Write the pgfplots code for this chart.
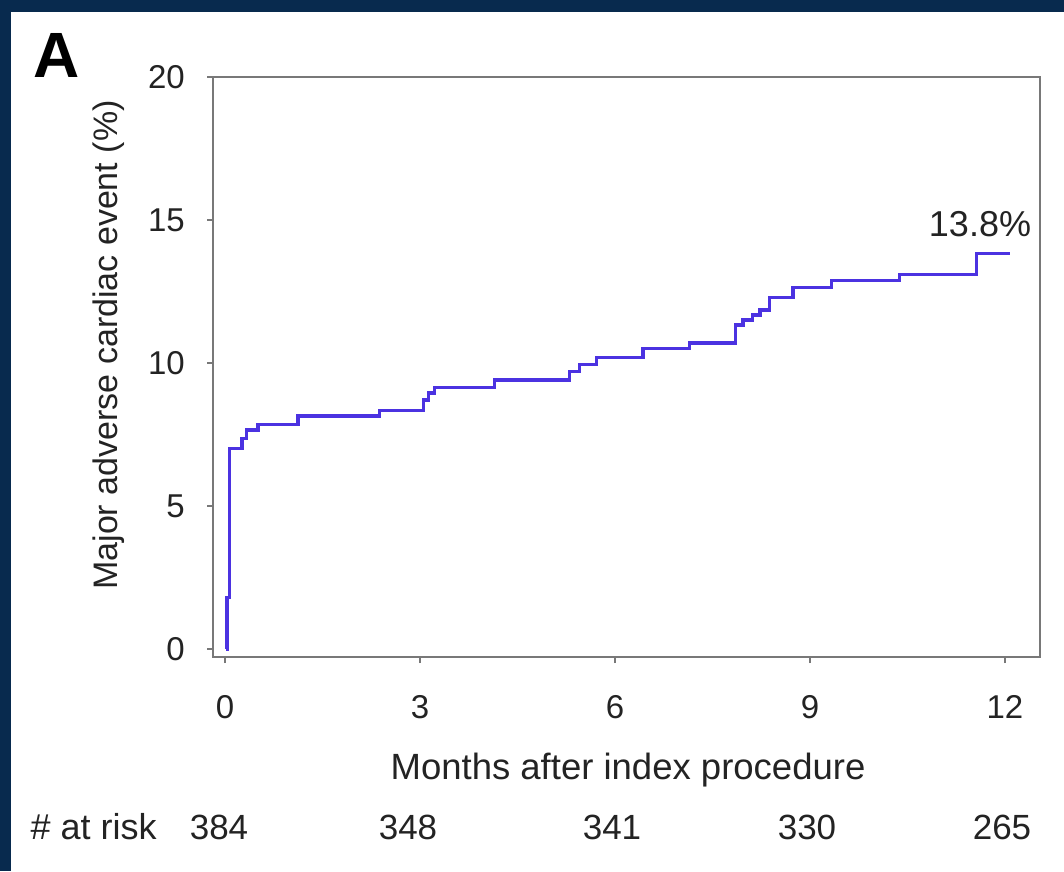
\documentclass[border=0pt]{standalone}
\usepackage{fontspec}
\setmainfont{Liberation Sans}
\usepackage{pgfplots}
\pgfplotsset{compat=1.18}
\definecolor{navy}{RGB}{8,42,78}
\definecolor{kmblue}{RGB}{75,50,225}
\definecolor{axgray}{RGB}{120,120,120}
\definecolor{txt}{RGB}{35,35,35}
\begin{document}
\begin{tikzpicture}[x=1pt,y=1pt]
\fill[navy] (0,0) rectangle (1064,871);
\fill[white] (11,0) rectangle (1064,859);
\begin{axis}[
  at={(213pt,214pt)}, anchor=south west,
  scale only axis, width=827pt, height=580pt,
  xmin=-0.185, xmax=12.54, ymin=-0.28, ymax=20,
  xtick={0,3,6,9,12}, ytick={0,5,10,15,20},
  axis line style={axgray, line width=2.8pt},
  tick style={axgray, line width=1.5pt},
  tick align=outside, major tick length=6pt,
  xtick pos=bottom, ytick pos=left,
  ticklabel style={font=\fontsize{33}{40}\selectfont, text=txt, inner sep=0pt},
  xticklabel style={yshift=-32pt},
  yticklabel style={xshift=-22pt},
  /pgf/number format/assume math mode=true,
  clip=false,
]
\addplot[const plot, kmblue, line width=3.4pt] coordinates {
(0.02,0) (0.03,1.8) (0.07,7.0) (0.26,7.37) (0.33,7.66) (0.51,7.85)
(1.12,8.15) (2.38,8.33) (3.05,8.7) (3.13,8.95) (3.22,9.15) (4.15,9.4)
(5.30,9.7) (5.45,9.95) (5.72,10.2) (6.43,10.5) (7.15,10.7) (7.85,11.33)
(7.97,11.5) (8.12,11.68) (8.23,11.85) (8.38,12.3) (8.74,12.65) (9.33,12.88)
(10.38,13.1) (11.56,13.83) (12.08,13.83)
};
\end{axis}
\node[anchor=base, font=\bfseries\fontsize{64}{74}\selectfont] at (57,793) {A};
\node[anchor=base, text=txt, font=\fontsize{36}{42}\selectfont] at (980,634) {13.8\%};
\node[anchor=base, text=txt, font=\fontsize{36.5}{42}\selectfont] at (628,92) {Months after index procedure};
\node[rotate=90, anchor=center, text=txt, font=\fontsize{34}{40}\selectfont] at (109,526) {Major adverse cardiac event (\%)};
\begin{scope}[every node/.style={anchor=base, text=txt, font=\fontsize{35}{40}\selectfont}]
\node[anchor=base west, font=\fontsize{36}{40}\selectfont] at (27,32) {\# at risk};
\node at (219,32) {384};
\node at (408,32) {348};
\node at (612,32) {341};
\node at (807,32) {330};
\node at (1002,32) {265};
\end{scope}
\end{tikzpicture}
\end{document}
